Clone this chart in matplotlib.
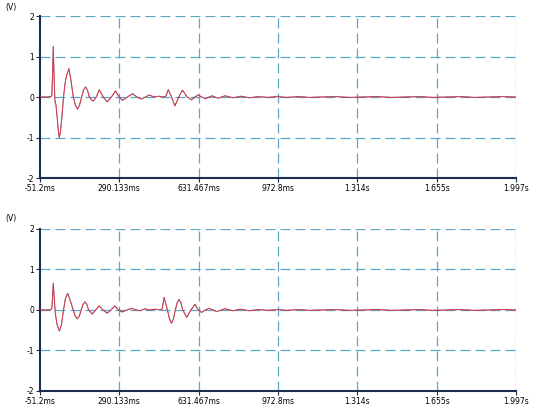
import matplotlib
matplotlib.use("Agg")
import matplotlib.pyplot as plt

# time in ms, voltage in V
t_top = [-51.2, -20, -4, 0, 3, 5.9, 9, 13, 17.6, 22, 27, 31.8, 37, 43, 50, 57, 64, 73.5, 81, 92,
         101, 110, 119, 128, 136, 145, 153, 161, 170, 178, 191, 204, 221, 238, 256, 274,
         289, 304, 325, 347, 366, 386, 402, 419, 440, 460, 480, 490, 501, 515, 529, 546,
         562, 582, 601, 615, 630, 645, 660, 690, 715, 745, 780, 815, 850, 890, 930, 970,
         1010, 1060, 1110, 1160, 1220, 1280, 1340, 1400, 1460, 1520, 1580, 1640, 1700,
         1760, 1820, 1880, 1940, 1997]
v_top = [0.0, 0.0, 0.01, 0.05, 0.6, 1.25, 0.6, -0.1, -0.2, -0.45, -0.8, -1.0, -0.85, -0.5, 0.0, 0.35, 0.55, 0.7, 0.45, 0.0,
         -0.2, -0.3, -0.2, 0.0, 0.17, 0.25, 0.17, 0.0, -0.07, -0.1, 0.0, 0.18, 0.0, -0.12, 0.0, 0.15,
         0.0, -0.08, 0.0, 0.08, 0.0, -0.05, 0.0, 0.05, 0.0, 0.02, 0.0, 0.02, 0.18, 0.0, -0.22, 0.0,
         0.17, 0.0, -0.07, 0.0, 0.05, 0.0, -0.04, 0.03, -0.03, 0.03, -0.02, 0.02, -0.02, 0.01, -0.01, 0.01,
         -0.01, 0.01, -0.01, 0.0, 0.01, -0.01, 0.0, 0.01, -0.01, 0.0, 0.01, -0.01, 0.0,
         0.01, -0.01, 0.0, 0.01, 0.0]

t_bot = [-51.2, -20, -4, 0, 3, 6, 10, 15, 22, 32, 41, 50, 58, 68, 78, 92, 100, 109, 118, 126,
         134, 142, 150, 158, 174, 188, 203, 220, 238, 254, 271, 287, 302, 322, 345, 362, 380,
         400, 420, 445, 465, 474, 483, 490, 497, 506, 515, 523, 531, 539, 547, 555, 563, 580,
         598, 616, 630, 644, 660, 677, 693, 709, 745, 780, 810, 850, 890, 930, 970, 1010,
         1060, 1110, 1160, 1220, 1280, 1340, 1400, 1460, 1520, 1580, 1640, 1700, 1760, 1820,
         1880, 1940, 1997]
v_bot = [0.0, 0.0, 0.01, 0.05, 0.35, 0.66, 0.3, -0.1, -0.35, -0.52, -0.37, 0.0, 0.28, 0.41, 0.25, 0.0, -0.15, -0.22, -0.15, 0.0,
         0.14, 0.2, 0.14, 0.0, -0.1, 0.0, 0.1, 0.0, -0.08, 0.0, 0.1, 0.0, -0.05, 0.0, 0.04, 0.0, -0.02,
         0.03, 0.0, 0.02, 0.0, 0.02, 0.31, 0.15, 0.0, -0.22, -0.33, -0.22, 0.0, 0.18, 0.26, 0.18, 0.0, -0.18,
         0.0, 0.14, 0.0, -0.06, 0.0, 0.04, 0.0, -0.04, 0.03, -0.02, 0.02, -0.02, 0.01, -0.01, 0.01, -0.01,
         0.01, -0.01, 0.0, 0.01, -0.01, 0.0, 0.01, -0.01, 0.0, 0.01, -0.01, 0.0, 0.01, -0.01,
         0.0, 0.01, 0.0]

x_ticks = [-51.2, 290.133, 631.467, 972.8, 1314.133, 1655.467, 1997]
x_labels = ["-51.2ms", "290.133ms", "631.467ms", "972.8ms", "1.314s", "1.655s", "1.997s"]
y_ticks = [-2, -1, 0, 1, 2]
y_labels = ["-2", "-1", "0", "1", "2"]

grid_col = "#5fa6c9"
axis_col = "#1c2d52"

fig = plt.figure(figsize=(5.34, 4.17), dpi=100)
ax1 = fig.add_axes([0.0749, 0.5731, 0.8914, 0.3885])
ax2 = fig.add_axes([0.0749, 0.0624, 0.8914, 0.3885])

for ax, t, v, ylab in [(ax1, t_top, v_top, 0.983), (ax2, t_bot, v_bot, 0.475)]:
    ax.set_xlim(-51.2, 1997)
    ax.set_ylim(-2, 2)
    for xt in x_ticks[1:]:
        ax.axvline(xt, color=grid_col, lw=0.9, dashes=(8, 4), zorder=1)
    for yt in y_ticks[1:]:
        ax.axhline(yt, color=grid_col, lw=0.9, dashes=(8, 4), zorder=1)
    ax.plot(t, v, color="#5a4a6a", lw=0.6, zorder=2)
    ax.plot(t, v, color="#e83a48", lw=0.75, alpha=0.8, zorder=3)
    ax.set_xticks(x_ticks)
    ax.set_xticklabels(x_labels)
    ax.set_yticks(y_ticks)
    ax.set_yticklabels(y_labels)
    ax.tick_params(labelsize=5.5, length=3, width=0.8, color=axis_col, pad=1)
    for s in ["top", "right"]:
        ax.spines[s].set_visible(False)
    for s in ["left", "bottom"]:
        ax.spines[s].set_color(axis_col)
        ax.spines[s].set_linewidth(1.5)
    fig.text(0.01, ylab, "(V)", fontsize=5.5, ha="left", va="center")

fig.savefig("out.png", dpi=100)
